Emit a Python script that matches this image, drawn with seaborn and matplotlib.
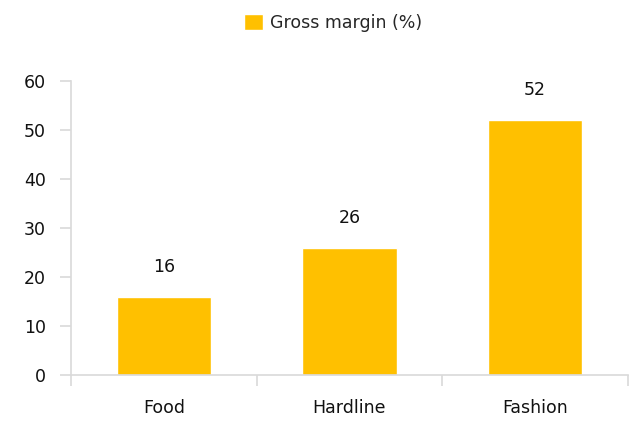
import matplotlib
matplotlib.use("Agg")
import matplotlib.pyplot as plt
import seaborn as sns
import pandas as pd

categories = ["Food", "Hardline", "Fashion"]
gross_margin = [16, 26, 52]
series_name = "Gross margin (%)"

df = pd.DataFrame({"category": categories, "value": gross_margin})

sns.set_style("white")
plt.rcParams["font.family"] = ["DejaVu Sans"]

fig = plt.figure(figsize=(6.29, 4.22), dpi=100)
ax = fig.add_axes([0.113, 0.111, 0.885, 0.697])

sns.barplot(data=df, x="category", y="value", color="#FFC000", width=0.51,
            saturation=1, ax=ax, label=series_name)

for cont in ax.containers:
    ax.bar_label(cont, padding=15, fontsize=12.5, color="#111111")

ax.set_ylim(0, 60)
ax.set_yticks(range(0, 61, 10))
ax.set_xlim(-0.5, 2.5)
ax.set_xlabel("")
ax.set_ylabel("")

grey = "#d9d9d9"
for s in ["top", "right"]:
    ax.spines[s].set_visible(False)
ax.spines["left"].set_color(grey)
ax.spines["bottom"].set_color(grey)
ax.spines["left"].set_linewidth(1.2)
ax.spines["bottom"].set_linewidth(1.2)

ax.tick_params(axis="y", which="major", length=8, width=1.2, color=grey,
               labelsize=12.5, labelcolor="#111111", pad=10, left=True)
ax.tick_params(axis="x", which="major", length=0, labelsize=12.5,
               labelcolor="#111111", pad=17)
ax.set_xticks([-0.5, 0.5, 1.5, 2.5], minor=True)
ax.tick_params(axis="x", which="minor", length=8, width=1.2, color=grey, bottom=True)

if ax.legend_:
    ax.legend_.remove()
handles, labels = ax.get_legend_handles_labels()
fig.legend(handles, labels, loc="upper center", bbox_to_anchor=(0.53, 1.005),
           frameon=False, fontsize=12.5, handlelength=1.1, handleheight=1.1,
           handletextpad=0.4)

fig.savefig("out.png", dpi=100)
